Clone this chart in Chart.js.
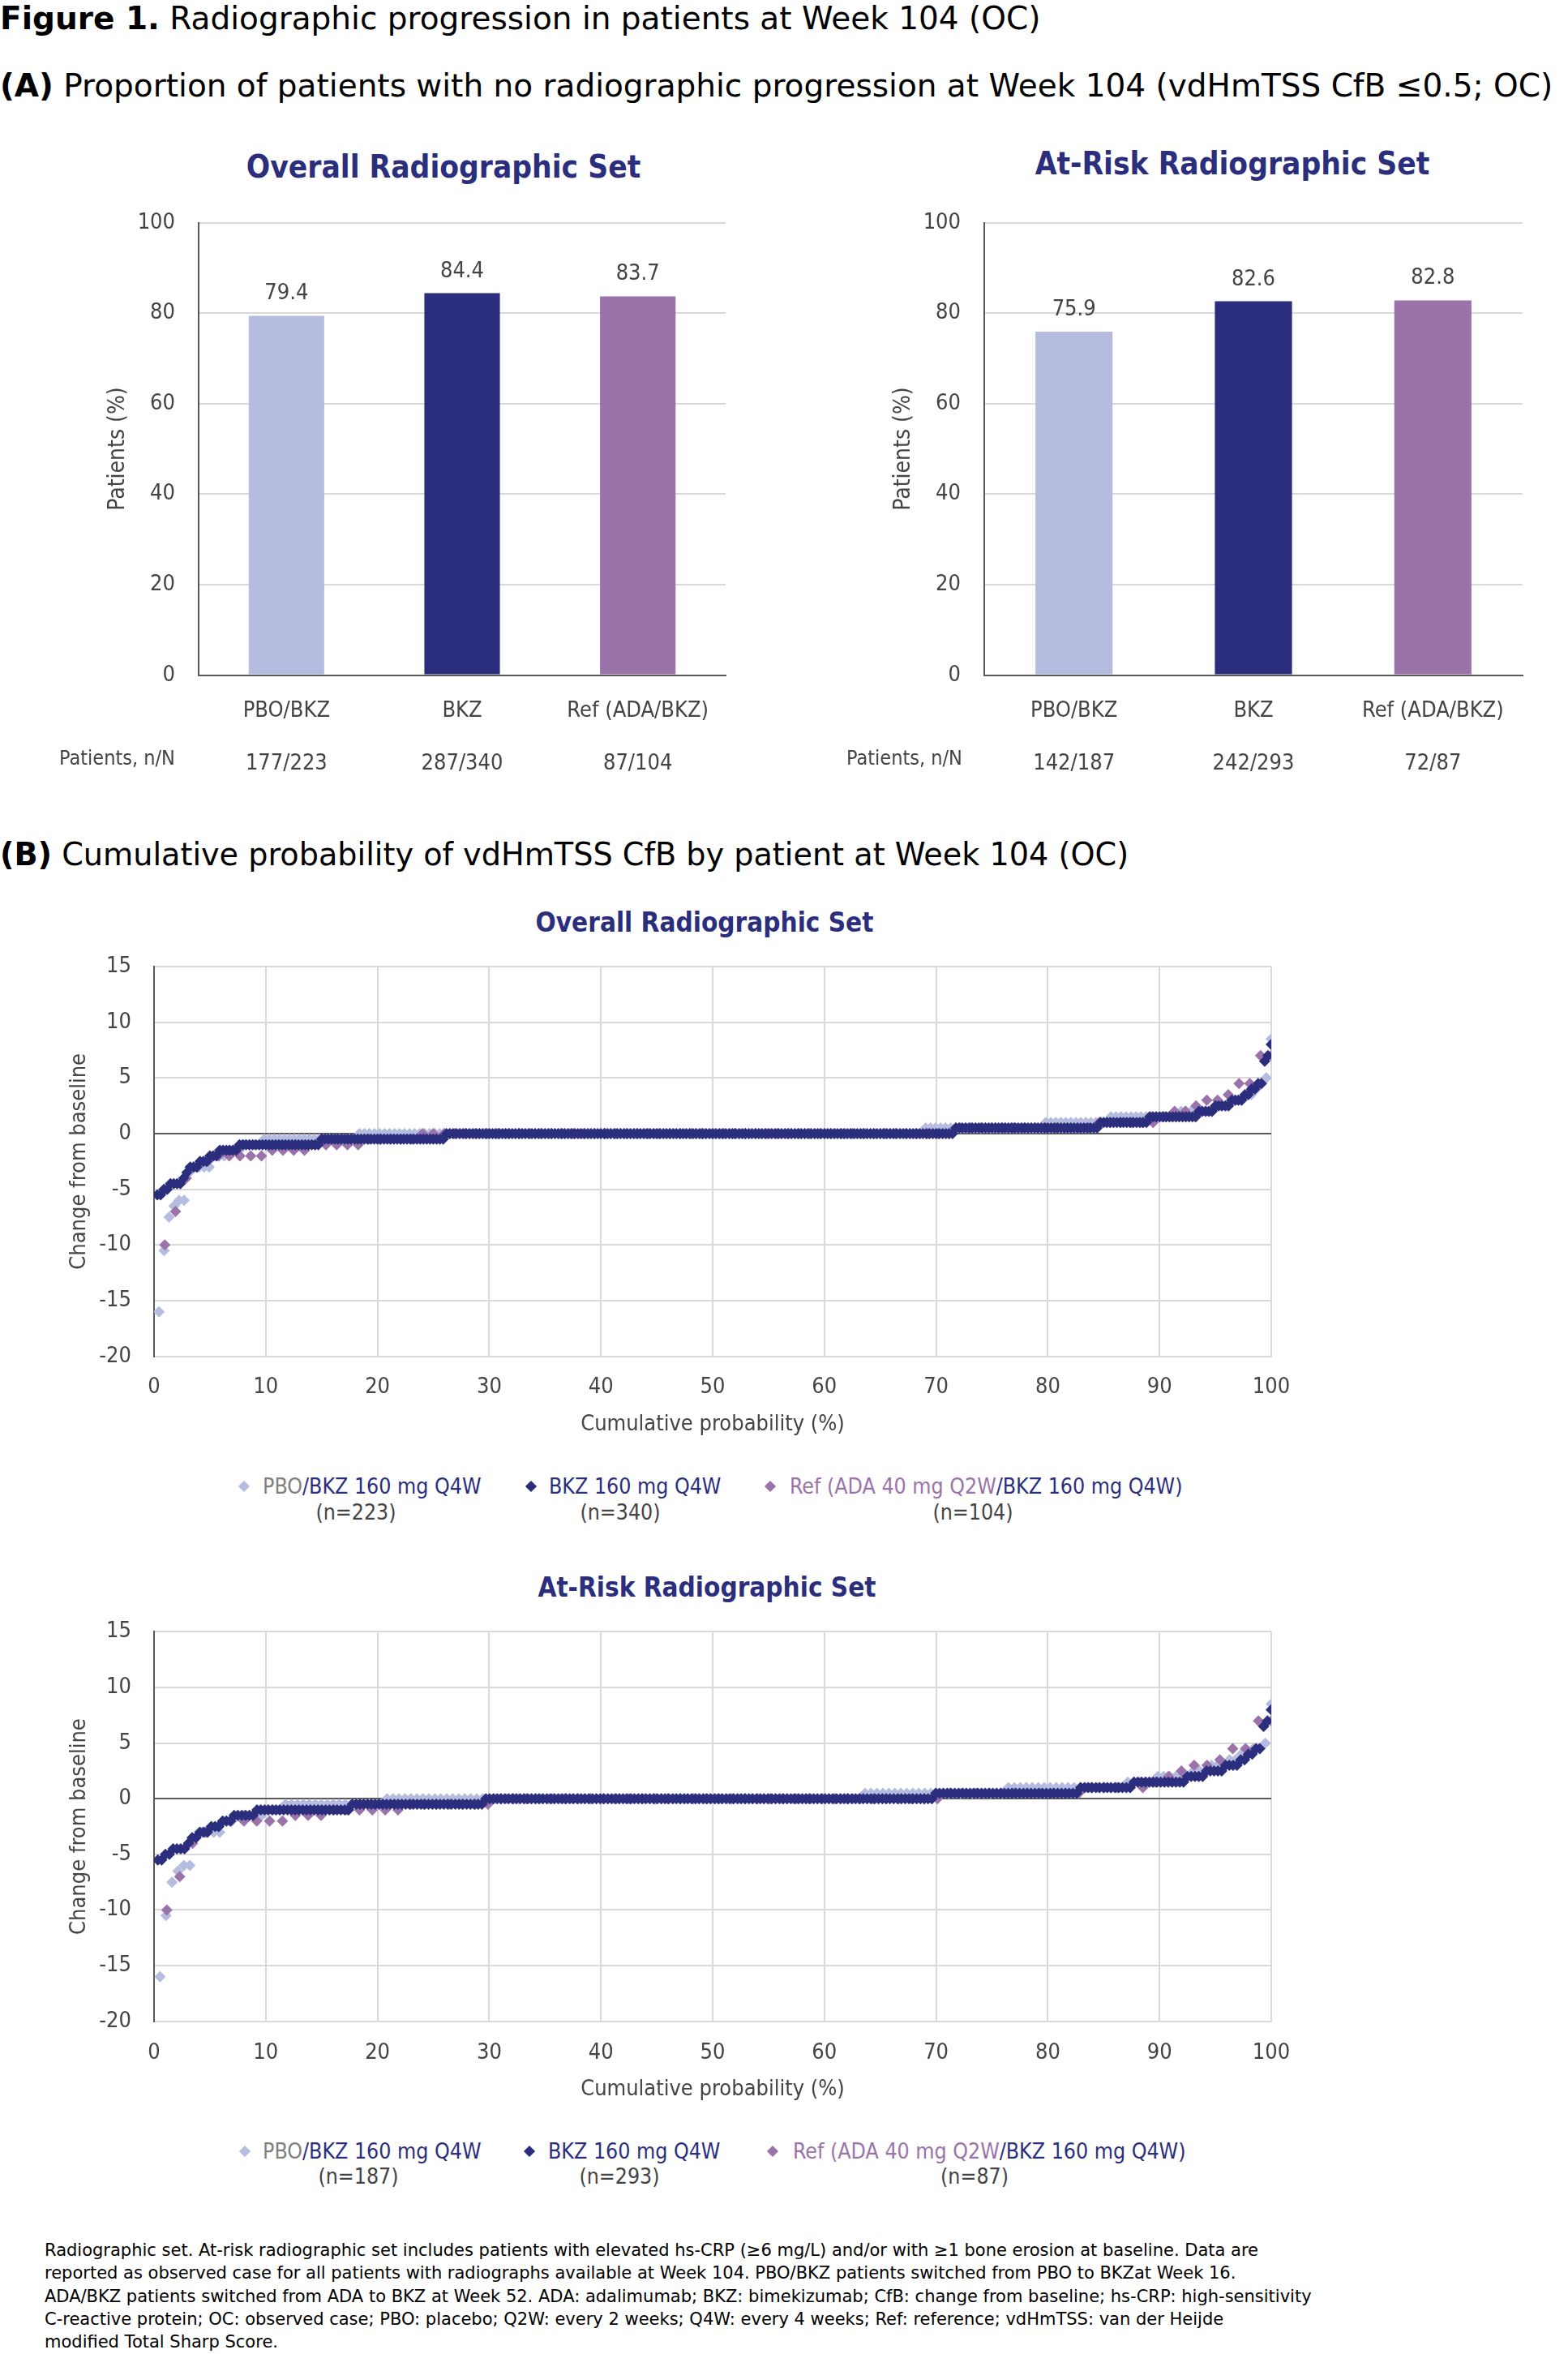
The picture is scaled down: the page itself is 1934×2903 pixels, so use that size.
<!DOCTYPE html>
<html>
<head>
<meta charset="utf-8">
<script src="https://cdn.jsdelivr.net/npm/chart.js@4.4.1/dist/chart.umd.min.js"></script>
<style>
  body { margin: 0; background: #fff; width: 1934px; height: 2903px; position: relative; overflow: hidden;
         font-family: "DejaVu Sans Condensed", "DejaVu Sans", sans-serif; color: #000; }
  .t { position: absolute; white-space: nowrap; line-height: 1.2; }
  .h { font-family: "DejaVu Sans", sans-serif; }
  .c { text-align: center; }
  canvas { position: absolute; }
  .navy { color: #2b2e7d; }
  .grey { color: #808080; }
  .purple { color: #9a73aa; }
  .dk { color: #444; }
  .dia { position: absolute; width: 10px; height: 10px; transform: rotate(45deg); }
</style>
</head>
<body>

<div class="t h" style="left:0;top:0;font-size:39px;"><b>Figure 1.</b> Radiographic progression in patients at Week 104 (OC)</div>
<div class="t h" style="left:0;top:83px;font-size:39px;"><b>(A)</b> Proportion of patients with no radiographic progression at Week 104 (vdHmTSS CfB ≤0.5; OC)</div>

<div class="t c navy" style="left:147px;width:800px;top:183px;font-size:38.5px;font-weight:bold;">Overall Radiographic Set</div>
<div class="t c navy" style="left:1120px;width:800px;top:179px;font-size:38.5px;font-weight:bold;">At-Risk Radiographic Set</div>

<canvas id="barOverall" width="967" height="720" style="left:0;top:240px;width:967px;height:720px;"></canvas>
<canvas id="barAtRisk" width="967" height="720" style="left:967px;top:240px;width:967px;height:720px;"></canvas>

<div class="t dk" style="left:73px;top:920px;font-size:25px;">Patients, n/N</div>
<div class="t dk" style="left:1044px;top:920px;font-size:25px;">Patients, n/N</div>

<div class="t h" style="left:0;top:1032px;font-size:38.2px;"><b>(B)</b> Cumulative probability of vdHmTSS CfB by patient at Week 104 (OC)</div>

<div class="t c navy" style="left:469px;width:800px;top:1118px;font-size:33px;font-weight:bold;">Overall Radiographic Set</div>
<canvas id="cumOverall" width="1700" height="640" style="left:0;top:1150px;width:1700px;height:640px;"></canvas>

<div class="dia" style="left:296px;top:1828px;background:#b6bce0;"></div>
<div class="t" style="left:324px;top:1817px;font-size:26.5px;"><span class="grey">PBO</span><span class="navy">/BKZ 160 mg Q4W</span></div>
<div class="t c dk" style="left:339px;width:200px;top:1849px;font-size:26.5px;">(n=223)</div>
<div class="dia" style="left:650px;top:1828px;background:#2b2e7d;"></div>
<div class="t navy" style="left:677px;top:1817px;font-size:26.5px;">BKZ 160 mg Q4W</div>
<div class="t c dk" style="left:665px;width:200px;top:1849px;font-size:26.5px;">(n=340)</div>
<div class="dia" style="left:945px;top:1828px;background:#9a73aa;"></div>
<div class="t" style="left:974px;top:1817px;font-size:26.5px;"><span class="purple">Ref (ADA 40 mg Q2W</span><span class="navy">/BKZ 160 mg Q4W)</span></div>
<div class="t c dk" style="left:1100px;width:200px;top:1849px;font-size:26.5px;">(n=104)</div>

<div class="t c navy" style="left:472px;width:800px;top:1938px;font-size:33px;font-weight:bold;">At-Risk Radiographic Set</div>
<canvas id="cumAtRisk" width="1700" height="640" style="left:0;top:1970px;width:1700px;height:640px;"></canvas>

<div class="dia" style="left:297px;top:2648px;background:#b6bce0;"></div>
<div class="t" style="left:324px;top:2637px;font-size:26.5px;"><span class="grey">PBO</span><span class="navy">/BKZ 160 mg Q4W</span></div>
<div class="t c dk" style="left:342px;width:200px;top:2668px;font-size:26.5px;">(n=187)</div>
<div class="dia" style="left:648px;top:2648px;background:#2b2e7d;"></div>
<div class="t navy" style="left:676px;top:2637px;font-size:26.5px;">BKZ 160 mg Q4W</div>
<div class="t c dk" style="left:664px;width:200px;top:2668px;font-size:26.5px;">(n=293)</div>
<div class="dia" style="left:948px;top:2648px;background:#9a73aa;"></div>
<div class="t" style="left:978px;top:2637px;font-size:26.5px;"><span class="purple">Ref (ADA 40 mg Q2W</span><span class="navy">/BKZ 160 mg Q4W)</span></div>
<div class="t c dk" style="left:1102px;width:200px;top:2668px;font-size:26.5px;">(n=87)</div>

<div class="t h" style="left:55px;top:2761px;font-size:21px;line-height:28.3px;">
Radiographic set. At-risk radiographic set includes patients with elevated hs-CRP (≥6 mg/L) and/or with ≥1 bone erosion at baseline. Data are<br>
reported as observed case for all patients with radiographs available at Week 104. PBO/BKZ patients switched from PBO to BKZat Week 16.<br>
ADA/BKZ patients switched from ADA to BKZ at Week 52. ADA: adalimumab; BKZ: bimekizumab; CfB: change from baseline; hs-CRP: high-sensitivity<br>
C-reactive protein; OC: observed case; PBO: placebo; Q2W: every 2 weeks; Q4W: every 4 weeks; Ref: reference; vdHmTSS: van der Heijde<br>
modified Total Sharp Score.
</div>

<script>
// ---- data ----
const barCategories = ["PBO/BKZ", "BKZ", "Ref (ADA/BKZ)"];
const overallPct = [79.4, 84.4, 83.7];
const overallNN = ["177/223", "287/340", "87/104"];
const atRiskPct = [75.9, 82.6, 82.8];
const atRiskNN = ["142/187", "242/293", "72/87"];
const barTicks = [0, 20, 40, 60, 80, 100];

// sorted change-from-baseline values per patient, as [value, number of patients]
const overallPbo = [[-16,1],[-10.5,1],[-7.5,1],[-6.5,1],[-6,2],[-3.5,1],[-3,4],[-2,3],[-1.5,3],[-1,4],[-0.5,19],
  [0,113],[0.5,24],[1,13],[1.5,14],[2,7],[2.5,3],[3,3],[3.5,2],[4,1],[4.5,1],[5,1],[8.5,1]];
const overallBkz = [[-5.5,2],[-5,2],[-4.5,4],[-4,1],[-3.5,1],[-3,3],[-2.5,3],[-2,3],[-1.5,6],[-1,25],[-0.5,38],
  [0,155],[0.5,44],[1,15],[1.5,15],[2,5],[2.5,5],[3,4],[3.5,2],[4,2],[4.5,2],[6.5,1],[7,1],[8,1]];
const overallRef = [[-10,1],[-7,1],[-4,1],[-3,1],[-2.5,1],[-2,5],[-1.5,4],[-1,5],[-0.5,5],
  [0,50],[0.5,13],[1,6],[1.5,1],[2,2],[2.5,1],[3,2],[3.5,1],[4.5,2],[7,2]];

const atRiskPbo = [[-16,1],[-10.5,1],[-7.5,1],[-6.5,1],[-6,2],[-3.5,1],[-3,4],[-2,2],[-1.5,5],[-1,3],[-0.5,17],
  [0,80],[0.5,24],[1,20],[1.5,5],[2,6],[2.5,3],[3,3],[3.5,2],[4,2],[4.5,2],[5,1],[8.5,1]];
const atRiskBkz = [[-5.5,2],[-5,2],[-4.5,4],[-4,1],[-3.5,2],[-3,3],[-2.5,3],[-2,3],[-1.5,6],[-1,25],[-0.5,35],
  [0,118],[0.5,38],[1,14],[1.5,14],[2,5],[2.5,5],[3,4],[3.5,2],[4,2],[4.5,2],[6.5,1],[7,1],[8,1]];
const atRiskRef = [[-10,1],[-7,1],[-4,1],[-3,1],[-2.5,1],[-2,5],[-1.5,3],[-1,6],[-0.5,7],
  [0,35],[0.5,11],[1,5],[1.5,1],[2,1],[2.5,1],[3,2],[3.5,1],[4.5,2],[7,2]];

const xTicks = [0, 10, 20, 30, 40, 50, 60, 70, 80, 90, 100];
const yTicks = [-20, -15, -10, -5, 0, 5, 10, 15];

// ---- styles ----
const FONT = '"DejaVu Sans Condensed", "DejaVu Sans", sans-serif';
const LIGHT = "#b6bce0", NAVY = "#2b2e7d", PURPLE = "#9a73aa";
const TXT = "#444", GRID = "#d9d9d9", AXIS = "#595959";

// turn [value, count] runs into cumulative probability points
function cumulative(runs) {
  const n = runs.reduce((s, r) => s + r[1], 0);
  const pts = [];
  let rank = 0;
  runs.forEach(([v, count]) => {
    for (let k = 0; k < count; k++) {
      rank++;
      pts.push({ x: rank / n * 100, y: v });
    }
  });
  return pts;
}

// nudge the layout padding so the plot area lands where it sits in the figure
function placeArea(chart, target) {
  const pad = chart.options.layout.padding;
  for (let k = 0; k < 2; k++) {
    const a = chart.chartArea;
    pad.top += target.top - a.top;
    pad.bottom += a.bottom - target.bottom;
    pad.left += target.left - a.left;
    pad.right += a.right - target.right;
    chart.update();
  }
}

const barValueLabels = {
  id: "barValueLabels",
  afterDatasetsDraw(chart) {
    const ctx = chart.ctx;
    chart.getDatasetMeta(0).data.forEach((bar, i) => {
      ctx.save();
      ctx.font = "27px " + FONT;
      ctx.fillStyle = TXT;
      ctx.textAlign = "center";
      ctx.textBaseline = "middle";
      ctx.fillText(chart.data.datasets[0].data[i].toFixed(1), bar.x, bar.y - 27);
      ctx.restore();
    });
  }
};

function makeBar(id, pct, nn, yWidth, area, titlePad) {
  const chart = new Chart(document.getElementById(id), {
    type: "bar",
    data: {
      labels: barCategories.map((c, i) => [c, "", nn[i]]),
      datasets: [{
        data: pct,
        backgroundColor: [LIGHT, NAVY, PURPLE],
        categoryPercentage: 1,
        barPercentage: 0.43
      }]
    },
    options: {
      responsive: false,
      animation: false,
      layout: { padding: { top: 30, right: 60, left: 0, bottom: 0 } },
      plugins: { legend: { display: false }, tooltip: { enabled: false } },
      scales: {
        x: {
          grid: { display: false },
          border: { color: AXIS, width: 2 },
          ticks: { color: TXT, font: { family: FONT, size: 27, lineHeight: 1.2 }, padding: 20 },
          afterFit: (s) => { s.height = 120; }
        },
        y: {
          min: 0, max: 100,
          afterBuildTicks: (s) => { s.ticks = barTicks.map(v => ({ value: v })); },
          // invisible tick marks give the label gap without padding the top
          grid: { color: GRID, lineWidth: 2, drawTicks: true, tickLength: 21, tickColor: "rgba(0,0,0,0)" },
          border: { color: AXIS, width: 2 },
          ticks: { color: TXT, font: { family: FONT, size: 27 }, padding: 8 },
          title: { display: true, text: "Patients (%)", color: TXT,
                   font: { family: FONT, size: 28, lineHeight: 1.2 }, padding: { top: titlePad } },
          afterFit: (s) => { s.width = yWidth; }
        }
      }
    },
    plugins: [barValueLabels]
  });
  placeArea(chart, area);
}

makeBar("barOverall", overallPct, overallNN, 245, { left: 245, right: 895, top: 34.5, bottom: 592.5 }, 129);
makeBar("barAtRisk", atRiskPct, atRiskNN, 247, { left: 247, right: 911, top: 34.5, bottom: 592.5 }, 131);

function makeCum(id, pbo, bkz, ref, area, tickPad, titlePad) {
  const point = (color, order) => ({
    backgroundColor: color, borderWidth: 0, pointStyle: "rectRot", pointRadius: 7, order: order
  });
  const chart = new Chart(document.getElementById(id), {
    type: "scatter",
    data: {
      datasets: [
        Object.assign({ label: "PBO/BKZ 160 mg Q4W", data: cumulative(pbo) }, point(LIGHT, 2)),
        Object.assign({ label: "BKZ 160 mg Q4W", data: cumulative(bkz) }, point(NAVY, 0)),
        Object.assign({ label: "Ref (ADA 40 mg Q2W/BKZ 160 mg Q4W)", data: cumulative(ref) }, point(PURPLE, 1))
      ]
    },
    options: {
      responsive: false,
      animation: false,
      layout: { padding: { top: 42, right: 132, left: 0, bottom: 0 } },
      plugins: { legend: { display: false }, tooltip: { enabled: false } },
      scales: {
        x: {
          type: "linear", min: 0, max: 100,
          afterBuildTicks: (s) => { s.ticks = xTicks.map(v => ({ value: v })); },
          grid: { color: GRID, lineWidth: 2, drawTicks: false },
          border: { color: GRID, width: 2 },
          ticks: { color: TXT, font: { family: FONT, size: 27, lineHeight: 1.2 }, padding: tickPad },
          title: { display: true, text: "Cumulative probability (%)", color: TXT,
                   font: { family: FONT, size: 27, lineHeight: 1.2 }, padding: { top: 0, bottom: titlePad } },
          afterFit: (s) => { s.height = 110; }
        },
        y: {
          min: -20, max: 15,
          afterBuildTicks: (s) => { s.ticks = yTicks.map(v => ({ value: v })); },
          grid: { color: (c) => (c.tick && c.tick.value === 0 ? AXIS : GRID), lineWidth: 2,
                  drawTicks: true, tickLength: 20, tickColor: "rgba(0,0,0,0)" },
          border: { color: AXIS, width: 2 },
          ticks: { color: TXT, font: { family: FONT, size: 27 }, padding: 8 },
          title: { display: true, text: "Change from baseline", color: TXT,
                   font: { family: FONT, size: 27, lineHeight: 1.2 }, padding: { top: 82 } },
          afterFit: (s) => { s.width = 190; }
        }
      }
    }
  });
  placeArea(chart, area);
}

// x axis box is 110 tall: ticks ~37 px and title ~80 px below the plot
makeCum("cumOverall", overallPbo, overallBkz, overallRef, { left: 190, right: 1568, top: 42, bottom: 522.6 }, 22, 9);
makeCum("cumAtRisk", atRiskPbo, atRiskBkz, atRiskRef, { left: 190, right: 1568, top: 42.4, bottom: 522.7 }, 23, 10);
</script>
</body>
</html>
